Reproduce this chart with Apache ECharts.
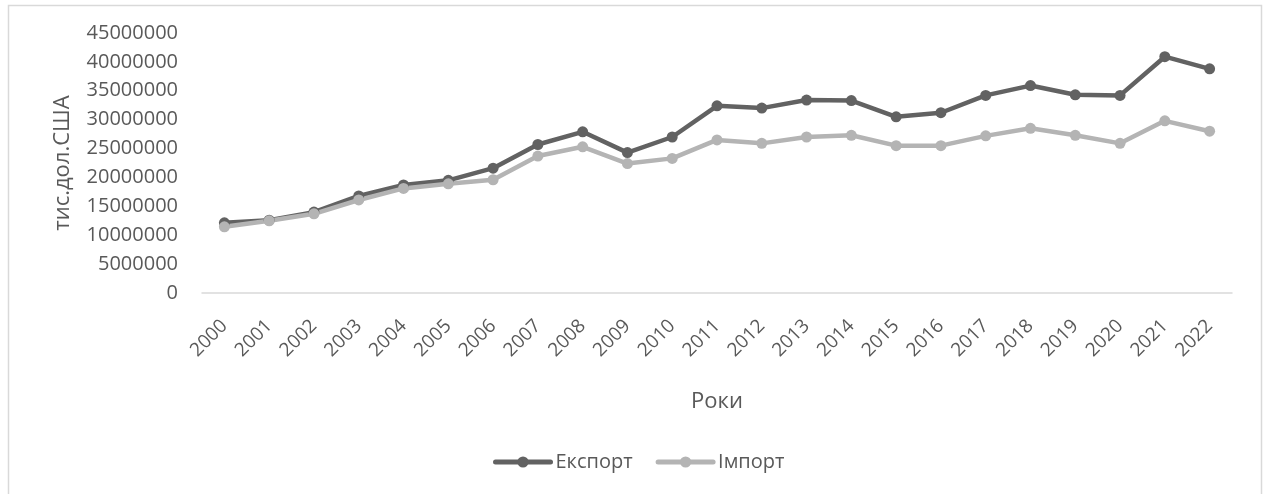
<!DOCTYPE html>
<html>
<head>
<meta charset="utf-8">
<script src="https://cdn.jsdelivr.net/npm/echarts@6/dist/echarts.min.js"></script>
<style>
  html, body { margin: 0; padding: 0; background: #fff; }
  #chart { width: 1267px; height: 494px; }
</style>
</head>
<body>
<div id="chart"></div>
<script>
const years = ['2000', '2001', '2002', '2003', '2004', '2005', '2006', '2007', '2008', '2009', '2010', '2011',
    '2012', '2013', '2014', '2015', '2016', '2017', '2018', '2019', '2020', '2021', '2022'];

// тис. дол. США
const exportValues = [12150000, 12600000, 14000000, 16800000, 18700000, 19500000, 21600000, 25700000, 27900000,
    24300000, 27000000, 32400000, 32000000, 33400000, 33300000, 30500000, 31200000, 34200000, 35900000,
    34300000, 34200000, 40900000, 38800000];
const importValues = [11450000, 12500000, 13700000, 16100000, 18100000, 18900000, 19600000, 23700000, 25300000,
    22400000, 23300000, 26500000, 25900000, 27000000, 27300000, 25500000, 25500000, 27200000, 28500000,
    27300000, 25900000, 29800000, 28000000];

const yTicks = { min: 0, max: 45000000, interval: 5000000 };

const textColor = '#595959';
const font = '"Open Sans", "Noto Sans", sans-serif';

const chart = echarts.init(document.getElementById('chart'), null, { renderer: 'canvas' });

const makeSeries = (name, data, color) => ({
    name: name,
    type: 'line',
    data: data,
    symbol: 'circle',
    symbolSize: 11,
    itemStyle: { color: color },
    lineStyle: { color: color, width: 4.5 },
    emphasis: { disabled: true },
    animation: false
});

chart.setOption({
    backgroundColor: '#fff',
    textStyle: { fontFamily: font, color: textColor },
    graphic: [{
        type: 'rect',
        shape: { x: 8.5, y: 5.5, width: 1253, height: 520 },
        style: { fill: 'none', stroke: '#d9d9d9', lineWidth: 1.5 },
        silent: true
    }],
    grid: { left: 202, right: 35, top: 33, bottom: 201 },
    legend: {
        left: 488,
        top: 447,
        itemWidth: 55,
        itemHeight: 14,
        itemGap: 23,
        lineStyle: { width: 5, cap: 'round' },
        textStyle: { fontFamily: font, fontSize: 20, color: textColor },
        data: ['Експорт', 'Імпорт']
    },
    xAxis: {
        type: 'category',
        data: years,
        boundaryGap: true,
        name: 'Роки',
        nameLocation: 'middle',
        nameGap: 98,
        nameTextStyle: { fontFamily: font, fontSize: 22, color: textColor },
        axisLine: { lineStyle: { color: '#d9d9d9', width: 1.5 } },
        axisTick: { show: false },
        axisLabel: {
            rotate: 45,
            interval: 0,
            margin: 30,
            fontFamily: font,
            fontSize: 19,
            color: textColor
        }
    },
    yAxis: {
        type: 'value',
        min: yTicks.min,
        max: yTicks.max,
        interval: yTicks.interval,
        name: 'тис.дол.США',
        nameLocation: 'middle',
        nameGap: 128,
        nameTextStyle: { fontFamily: font, fontSize: 22, color: textColor },
        axisLine: { show: false },
        axisTick: { show: false },
        splitLine: { show: false },
        axisLabel: {
            margin: 24,
            fontFamily: font,
            fontSize: 20,
            color: textColor,
            formatter: (v) => String(v)
        }
    },
    series: [
        makeSeries('Експорт', exportValues, '#626262'),
        makeSeries('Імпорт', importValues, '#b4b4b4')
    ]
});
</script>
</body>
</html>
